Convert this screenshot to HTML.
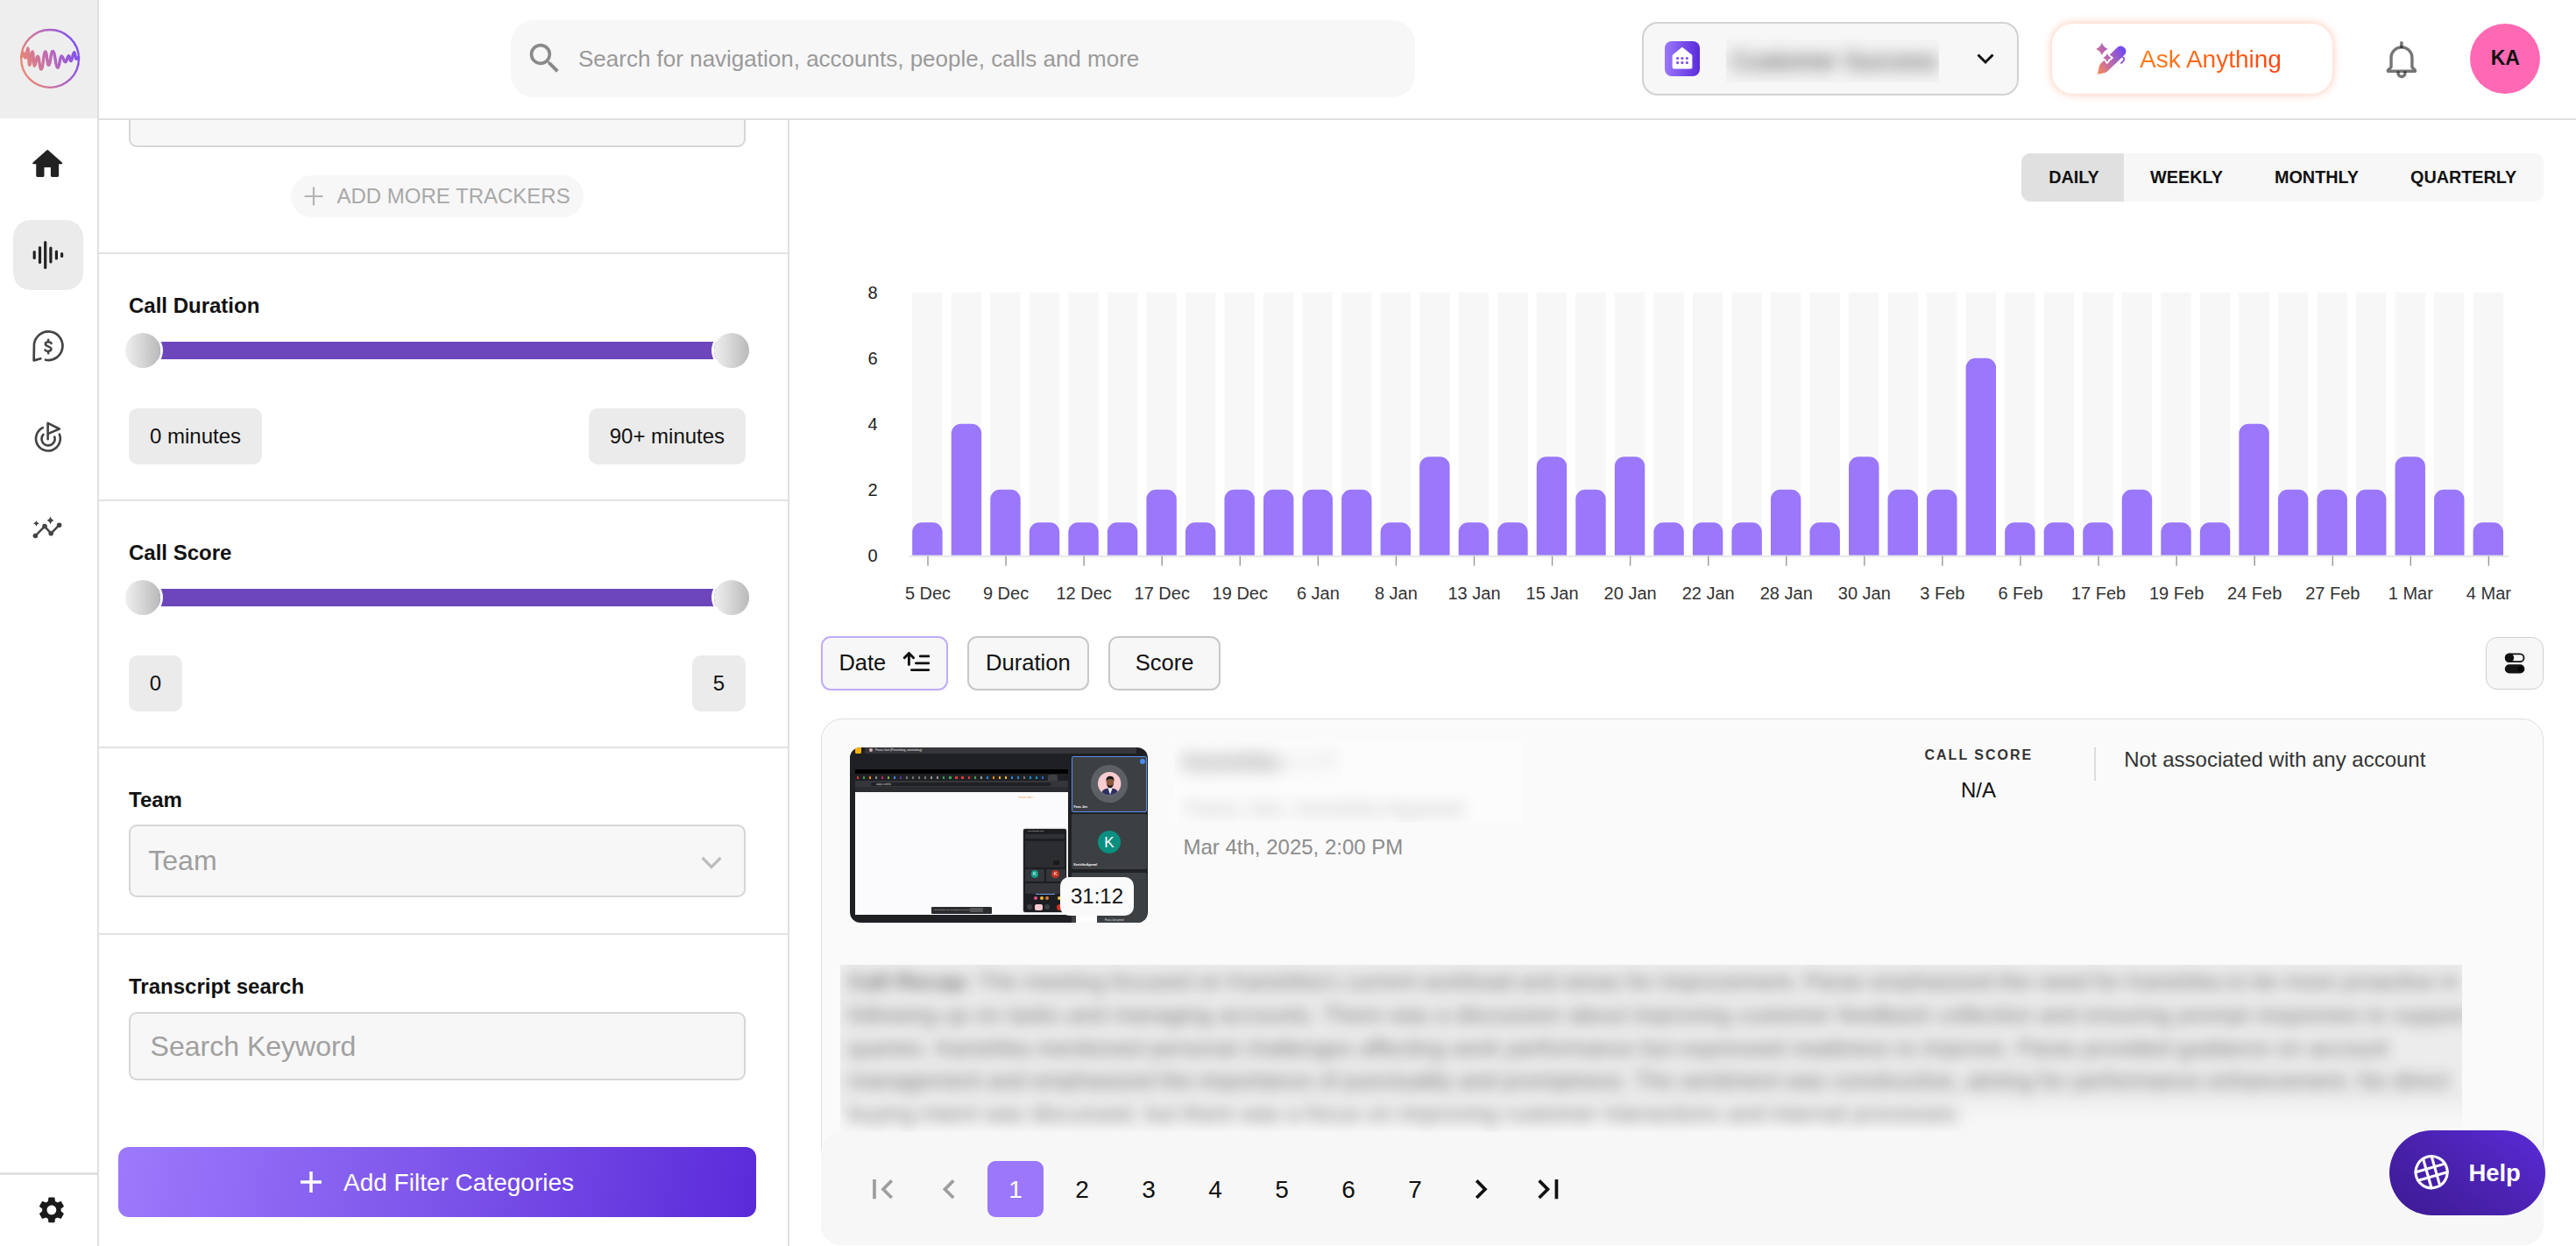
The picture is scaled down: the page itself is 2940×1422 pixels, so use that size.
<!DOCTYPE html>
<html lang="en"><head><meta charset="utf-8"><title>Calls</title>
<style>
*{box-sizing:border-box;margin:0;padding:0}
html,body{width:2940px;height:1422px;overflow:hidden;background:#fff}
body{font-family:"Liberation Sans",Arial,Helvetica,sans-serif;color:#111;position:relative}
.a,.t{position:absolute}
.t{white-space:nowrap}
svg{position:absolute;overflow:visible}
</style></head><body>

<div class="a" style="left:0;top:0;width:111px;height:135px;background:#eeeeee"></div>
<div class="a" style="left:111px;top:0;width:2px;height:1422px;background:#e0e0e0"></div>
<div class="a" style="left:113px;top:135px;width:2827px;height:2px;background:#e0e0e0"></div>
<div class="a" style="left:0;top:1338px;width:111px;height:2.5px;background:#e0e0e0"></div>
<svg style="left:16px;top:26px" width="82" height="82" viewBox="0 0 1246 1246">
<defs><linearGradient id="lg" gradientUnits="userSpaceOnUse" x1="110" y1="800" x2="1140" y2="450"><stop offset="0" stop-color="#f08a6c"/><stop offset="0.5" stop-color="#bd6bb5"/><stop offset="1" stop-color="#7b4df3"/></linearGradient></defs>
<circle cx="624" cy="622" r="500" fill="none" stroke="url(#lg)" stroke-width="36"/>
<path d="M130 590 C145 590 145 520 160 520 C180 520 180 610 200 610 C220 610 220 440 240 440 C254 440 254 735 268 735 C294 735 294 500 320 500 C338 500 338 748 355 748 C382 748 382 580 410 580 C440 580 440 805 470 805 C508 805 508 500 545 500 C572 500 572 735 600 735 C635 735 635 495 670 495 C716 495 716 778 762 778 C792 778 792 575 822 575 C856 575 856 680 890 680 C920 680 920 572 950 572 C968 572 968 665 985 665 C1015 665 1015 512 1045 512 C1062 512 1062 628 1078 628 C1099 628 1099 600 1120 600" fill="none" stroke="url(#lg)" stroke-width="52" stroke-linecap="round" stroke-linejoin="round"/>
</svg>
<svg style="left:32px;top:164.6px" width="44.4" height="44.4" viewBox="0 0 24 24"><path fill="#222" d="M10 19v-5h4v5c0 .55.45 1 1 1h3c.55 0 1-.45 1-1v-7h1.7c.46 0 .68-.57.33-.87L12.67 3.6c-.38-.34-.96-.34-1.34 0l-8.36 7.53c-.34.3-.13.87.33.87H5v7c0 .55.45 1 1 1h3c.55 0 1-.45 1-1z"/></svg>
<div class="a" style="left:15px;top:251px;width:80px;height:80px;border-radius:20px;background:#ebebeb"></div>
<svg style="left:0;top:0" width="111" height="400" viewBox="0 0 111 400"><rect x="37.6" y="286.0" width="3.2" height="10" rx="1.6" fill="#222"/><rect x="43.9" y="281.0" width="3.2" height="20" rx="1.6" fill="#222"/><rect x="50.1" y="275.0" width="3.2" height="32" rx="1.6" fill="#222"/><rect x="56.3" y="281.5" width="3.2" height="19" rx="1.6" fill="#222"/><rect x="62.8" y="285.5" width="3.2" height="11" rx="1.6" fill="#222"/><rect x="69.0" y="288.0" width="3.2" height="6" rx="1.6" fill="#222"/></svg>
<svg style="left:25px;top:365px" width="60" height="60" viewBox="0 0 60 60" fill="none" stroke="#444" stroke-width="2.7" stroke-linecap="round" stroke-linejoin="round">
<path d="M27 45.7 A16.3 16.3 0 1 0 13.9 31 L13.6 46.4 L21.4 44.3"/>
<path d="M33.6 27 C33 24.9 27.2 24.4 26.8 27.5 C26.5 30.7 33.7 29.9 33.5 33.4 C33.3 36.5 27.2 36.4 26.4 34.4 M30.1 22.8 v2.2 M30.1 36.1 v2.2" stroke-width="2.5"/>
</svg>
<svg style="left:25px;top:470px" width="60" height="60" viewBox="0 0 60 60" fill="none" stroke="#444" stroke-width="2.65" stroke-linecap="round" stroke-linejoin="round">
<path d="M23.81 18.11 A13.9 13.9 0 1 0 42.88 25.62"/>
<path d="M24.44 25.98 A7.5 7.5 0 1 0 37.23 28.58"/>
<path d="M29.6 31.2 V12.9 L42.8 19.5 L29.6 25.1"/>
</svg>
<svg style="left:25px;top:572px" width="60" height="60" viewBox="0 0 60 60">
<path d="M15.4 39.5 L26 28.6 L33.2 36.8 L42.6 27.2" fill="none" stroke="#444" stroke-width="2.5" stroke-linecap="round" stroke-linejoin="round"/>
<g fill="#444"><circle cx="15.4" cy="39.5" r="2.8"/><circle cx="26" cy="28.6" r="2.8"/><circle cx="33.2" cy="36.8" r="2.8"/><circle cx="42.6" cy="27.2" r="2.8"/>
<path d="M32.5 17.5 Q33.34 20.93 36.3 21.9 Q33.34 22.87 32.5 26.299999999999997 Q31.66 22.87 28.7 21.9 Q31.66 20.93 32.5 17.5Z"/><path d="M16.4 22.099999999999998 Q16.91 24.90 19.799999999999997 25.4 Q16.91 25.89 16.4 28.7 Q15.89 25.89 12.999999999999998 25.4 Q15.89 24.90 16.4 22.099999999999998Z"/></g>
</svg>
<svg style="left:41.1px;top:1363.1px" width="35.8" height="35.8" viewBox="0 0 24 24"><path fill="#1a1a1a" d="M19.14 12.94c.04-.3.06-.61.06-.94 0-.32-.02-.64-.07-.94l2.03-1.58c.18-.14.23-.41.12-.61l-1.92-3.32c-.12-.22-.37-.29-.59-.22l-2.39.96c-.5-.38-1.03-.7-1.62-.94l-.36-2.54c-.04-.24-.24-.41-.48-.41h-3.84c-.24 0-.43.17-.47.41l-.36 2.54c-.59.24-1.13.57-1.62.94l-2.39-.96c-.22-.08-.47 0-.59.22L2.74 8.87c-.12.21-.08.47.12.61l2.03 1.58c-.05.3-.09.63-.09.94s.02.64.07.94l-2.03 1.58c-.18.14-.23.41-.12.61l1.92 3.32c.12.22.37.29.59.22l2.39-.96c.5.38 1.03.7 1.62.94l.36 2.54c.05.24.24.41.48.41h3.84c.24 0 .44-.17.47-.41l.36-2.54c.59-.24 1.13-.56 1.62-.94l2.39.96c.22.08.47 0 .59-.22l1.92-3.32c.12-.22.07-.47-.12-.61l-2.01-1.58zM12 15.6c-1.98 0-3.6-1.62-3.6-3.6s1.62-3.6 3.6-3.6 3.6 1.62 3.6 3.6-1.62 3.6-3.6 3.6z"/></svg>
<div class="a" style="left:583px;top:23px;width:1032px;height:88px;border-radius:26px;background:#f7f7f7"></div>
<svg style="left:598.6px;top:43.6px" width="45.3" height="45.3" viewBox="0 0 24 24"><path fill="#8a8a8a" d="M15.5 14h-.79l-.28-.27A6.471 6.471 0 0 0 16 9.5 6.5 6.5 0 1 0 9.5 16c1.61 0 3.09-.59 4.23-1.57l.27.28v.79l5 4.99L20.49 19l-4.99-5zm-6 0C7.01 14 5 11.99 5 9.5S7.01 5 9.5 5 14 7.01 14 9.5 11.99 14 9.5 14z"/></svg>
<div class="t " style="left:660px;top:52.29px;font-size:26px;line-height:31px;color:#9a9a9a;font-weight:400;">Search for navigation, accounts, people, calls and more</div>
<div class="a" style="left:1874px;top:25px;width:430px;height:84px;border-radius:18px;background:#f7f7f7;border:2px solid #d2d2d2"></div>
<svg style="left:1890px;top:37px" width="60" height="60" viewBox="0 0 60 60">
<defs><linearGradient id="pg" x1="0" y1="0" x2="1" y2="0"><stop offset="0" stop-color="#9b78fb"/><stop offset="1" stop-color="#5a2adb"/></linearGradient></defs>
<rect x="10" y="10" width="40" height="40" rx="8" fill="url(#pg)"/>
<path d="M29.9 17.2 L40.9 26 V40 Q40.9 41.1 39.8 41.1 H20.2 Q19.1 41.1 19.1 40 V26 Z" fill="#fff" stroke="#fff" stroke-width="1" stroke-linejoin="round"/>
<g fill="#7a4fec"><circle cx="24.6" cy="29.5" r="1.6"/><circle cx="29.9" cy="29.5" r="1.6"/><circle cx="35.4" cy="29.5" r="1.6"/><circle cx="24.6" cy="34.6" r="1.6"/><circle cx="29.9" cy="34.6" r="1.6"/><circle cx="35.4" cy="34.6" r="1.6"/></g>
</svg>
<div class="a" style="left:1970px;top:45px;width:243px;height:49px;overflow:hidden;background:#f4f4f4"><div class="t" style="left:6px;top:7px;font-size:28px;line-height:36px;font-weight:400;color:#333;filter:blur(9px)">Customer Success</div></div>
<svg style="left:2254px;top:57px" width="24" height="20" viewBox="0 0 24 20"><path d="M3.5 5.5 L12 14 L20.5 5.5" fill="none" stroke="#111" stroke-width="3" stroke-linecap="butt" stroke-linejoin="miter"/></svg>
<div class="a" style="left:2342px;top:27px;width:320px;height:80px;border-radius:24px;background:#fff;box-shadow:0 0 10px 1px rgba(255,120,70,.38)"></div>
<svg style="left:2380px;top:40px" width="60" height="60" viewBox="0 0 60 60">
<defs><linearGradient id="ag" gradientUnits="userSpaceOnUse" x1="12" y1="40" x2="46" y2="18"><stop offset="0" stop-color="#f58a55"/><stop offset="0.35" stop-color="#c9709c"/><stop offset="1" stop-color="#6f48f5"/></linearGradient></defs>
<path d="M36.8 13.8 Q41.5 10.5 45.2 15 Q48 19 44.6 22.8 L25.2 41.6 Q24 42.6 22.4 43 L14.8 44.8 Q13.8 45 14.2 43.8 L15.9 35.6 Q16.2 34 17.4 32.8 Z" fill="url(#ag)"/>
<path d="M42.4 25.2 Q45.6 26.6 43.6 29.4 L41 32" fill="none" stroke="url(#ag)" stroke-width="1.8" stroke-linecap="round"/>
<path d="M24.9 20.8 Q26.36 24.54 30.099999999999998 26 Q26.36 27.46 24.9 31.2 Q23.44 27.46 19.7 26 Q23.44 24.54 24.9 20.8Z" fill="#fff" stroke="#fff" stroke-width="3.2" stroke-linejoin="round"/>
<path d="M24.9 21.3 Q26.22 24.68 29.599999999999998 26 Q26.22 27.32 24.9 30.7 Q23.58 27.32 20.2 26 Q23.58 24.68 24.9 21.3Z" fill="url(#ag)"/>
<path d="M18.9 8.9 Q20.80 13.94 25.7 15.9 Q20.80 17.86 18.9 22.9 Q17.00 17.86 12.099999999999998 15.9 Q17.00 13.94 18.9 8.9Z" fill="url(#ag)"/>
</svg>
<div class="t " style="left:2442px;top:51.10px;font-size:28px;line-height:34px;color:#ff5a1f;font-weight:400;background:linear-gradient(90deg,#ff7d1a,#ff4510);-webkit-background-clip:text;background-clip:text;-webkit-text-fill-color:transparent;color:transparent;">Ask Anything</div>
<svg style="left:2710px;top:37px" width="60" height="60" viewBox="0 0 60 60" fill="none" stroke="rgba(0,0,0,0.54)" stroke-width="3.4" stroke-linejoin="round">
<path d="M19 39.6 V28.85 A11.95 11.95 0 0 1 42.9 28.85 V39.6 L46.4 43.2 V44.3 H15.4 V43.2 Z"/>
<path d="M30.9 11.9 V16.6" stroke-width="3.6" stroke-linecap="round"/>
<path d="M27 45.6 V46.6 A3.95 3.95 0 0 0 34.9 46.6 V45.6" stroke-linecap="round"/>
</svg>
<div class="a" style="left:2819px;top:27px;width:80px;height:80px;border-radius:50%;background:#ff69b4"></div>
<div class="t " style="left:2819.3px;top:51.83px;font-size:23px;line-height:28px;color:#111;font-weight:700;width:80px;text-align:center;">KA</div>
<div class="a" style="left:899px;top:137px;width:2px;height:1285px;background:#e0e0e0"></div>
<div class="a" style="left:113px;top:137px;width:786px;height:60px;overflow:hidden"><div class="a" style="left:34px;top:-50px;width:704px;height:80.5px;border:2px solid #d6d6d6;border-radius:9px;background:#f7f7f7"></div></div>
<div class="a" style="left:332px;top:200px;width:334px;height:48px;border-radius:24px;background:#f7f7f7"></div>
<svg style="left:345.8px;top:212px" width="24" height="24" viewBox="0 0 24 24"><path d="M12 1.6 V22.4 M1.6 12 H22.4" stroke="#b4b4b4" stroke-width="2.2" fill="none"/></svg>
<div class="t " style="left:384.4px;top:208.98px;font-size:24px;line-height:29px;color:#a8a8a8;font-weight:400;">ADD MORE TRACKERS</div>
<div class="a" style="left:113px;top:288px;width:786px;height:2px;background:#e2e2e2"></div>
<div class="a" style="left:113px;top:570px;width:786px;height:2px;background:#e2e2e2"></div>
<div class="a" style="left:113px;top:852px;width:786px;height:2px;background:#e2e2e2"></div>
<div class="a" style="left:113px;top:1065px;width:786px;height:2px;background:#e2e2e2"></div>
<div class="t " style="left:147px;top:334.18px;font-size:24px;line-height:29px;color:#111;font-weight:700;">Call Duration</div>
<div class="a" style="left:163px;top:390px;width:672px;height:20px;background:#6c46ba"></div>
<div class="a" style="left:143px;top:380px;width:40px;height:40px;border-radius:50%;background:linear-gradient(90deg,#efefef 0%,#d8d8d8 45%,#b9b9b9 100%);box-shadow:0 0 0 3px #fff"></div>
<div class="a" style="left:815px;top:380px;width:40px;height:40px;border-radius:50%;background:linear-gradient(90deg,#efefef 0%,#d8d8d8 45%,#b9b9b9 100%);box-shadow:0 0 0 3px #fff"></div>
<div class="a" style="left:147px;top:465.6px;width:152px;height:64px;border-radius:10px;background:#ebebeb"></div>
<div class="t " style="left:171px;top:483.38px;font-size:24px;line-height:29px;color:#111;font-weight:400;">0 minutes</div>
<div class="a" style="left:672px;top:465.6px;width:179px;height:64px;border-radius:10px;background:#ebebeb"></div>
<div class="t " style="left:695.7px;top:483.38px;font-size:24px;line-height:29px;color:#111;font-weight:400;">90+ minutes</div>
<div class="t " style="left:147px;top:615.98px;font-size:24px;line-height:29px;color:#111;font-weight:700;">Call Score</div>
<div class="a" style="left:163px;top:672px;width:672px;height:20px;background:#6c46ba"></div>
<div class="a" style="left:143px;top:662px;width:40px;height:40px;border-radius:50%;background:linear-gradient(90deg,#efefef 0%,#d8d8d8 45%,#b9b9b9 100%);box-shadow:0 0 0 3px #fff"></div>
<div class="a" style="left:815px;top:662px;width:40px;height:40px;border-radius:50%;background:linear-gradient(90deg,#efefef 0%,#d8d8d8 45%,#b9b9b9 100%);box-shadow:0 0 0 3px #fff"></div>
<div class="a" style="left:147px;top:747.6px;width:61px;height:64px;border-radius:10px;background:#ebebeb"></div>
<div class="t " style="left:147px;top:765.18px;font-size:24px;line-height:29px;color:#111;font-weight:400;width:61px;text-align:center;">0</div>
<div class="a" style="left:790px;top:747.6px;width:61px;height:64px;border-radius:10px;background:#ebebeb"></div>
<div class="t " style="left:790px;top:765.18px;font-size:24px;line-height:29px;color:#111;font-weight:400;width:61px;text-align:center;">5</div>
<div class="t " style="left:147px;top:898.38px;font-size:24px;line-height:29px;color:#111;font-weight:700;">Team</div>
<div class="a" style="left:147px;top:940.6px;width:704px;height:83.4px;border:2px solid #d6d6d6;border-radius:9px;background:#f7f7f7"></div>
<div class="t " style="left:169.3px;top:963.11px;font-size:32px;line-height:38px;color:#9e9e9e;font-weight:400;">Team</div>
<svg style="left:798px;top:972px" width="28" height="24" viewBox="0 0 28 24"><path d="M3.6 7 L14 17.4 L24.4 7" fill="none" stroke="#bdbdbd" stroke-width="3.2"/></svg>
<div class="t " style="left:147px;top:1110.88px;font-size:24px;line-height:29px;color:#111;font-weight:700;">Transcript search</div>
<div class="a" style="left:147px;top:1155px;width:704px;height:77.6px;border:2px solid #d6d6d6;border-radius:9px;background:#f7f7f7"></div>
<div class="t " style="left:171.6px;top:1174.91px;font-size:32px;line-height:38px;color:#a0a0a0;font-weight:400;">Search Keyword</div>
<div class="a" style="left:135px;top:1309px;width:728px;height:80px;border-radius:12px;background:linear-gradient(100deg,#9c79fc 0%,#7d55ea 50%,#5a2ad9 100%)"></div>
<svg style="left:341px;top:1335px" width="28" height="28" viewBox="0 0 28 28"><path d="M14 2 V26 M2 14 H26" stroke="#fff" stroke-width="3.5" fill="none"/></svg>
<div class="t " style="left:392px;top:1333.00px;font-size:28px;line-height:34px;color:#fff;font-weight:400;">Add Filter Categories</div>
<div class="a" style="left:2307px;top:175px;width:596px;height:55px;border-radius:10px;background:#f7f7f7;overflow:hidden"><div class="a" style="left:0;top:0;width:117px;height:55px;background:#e0e0e0"></div></div>
<div class="t " style="left:2266.9px;top:189.54px;font-size:19.8px;line-height:24px;color:#111;font-weight:700;width:200px;text-align:center;">DAILY</div>
<div class="t " style="left:2395.5px;top:189.54px;font-size:19.8px;line-height:24px;color:#111;font-weight:700;width:200px;text-align:center;">WEEKLY</div>
<div class="t " style="left:2544px;top:189.54px;font-size:19.8px;line-height:24px;color:#111;font-weight:700;width:200px;text-align:center;">MONTHLY</div>
<div class="t " style="left:2711.7px;top:189.54px;font-size:19.8px;line-height:24px;color:#111;font-weight:700;width:200px;text-align:center;">QUARTERLY</div>
<svg style="left:0;top:0" width="2940" height="720" viewBox="0 0 2940 720" font-family="Liberation Sans, Arial, sans-serif" font-size="20"><rect x="1041.20" y="333.7" width="34.4" height="300.0" fill="#f7f7f7"/><rect x="1085.74" y="333.7" width="34.4" height="300.0" fill="#f7f7f7"/><rect x="1130.27" y="333.7" width="34.4" height="300.0" fill="#f7f7f7"/><rect x="1174.81" y="333.7" width="34.4" height="300.0" fill="#f7f7f7"/><rect x="1219.34" y="333.7" width="34.4" height="300.0" fill="#f7f7f7"/><rect x="1263.88" y="333.7" width="34.4" height="300.0" fill="#f7f7f7"/><rect x="1308.41" y="333.7" width="34.4" height="300.0" fill="#f7f7f7"/><rect x="1352.95" y="333.7" width="34.4" height="300.0" fill="#f7f7f7"/><rect x="1397.48" y="333.7" width="34.4" height="300.0" fill="#f7f7f7"/><rect x="1442.01" y="333.7" width="34.4" height="300.0" fill="#f7f7f7"/><rect x="1486.55" y="333.7" width="34.4" height="300.0" fill="#f7f7f7"/><rect x="1531.09" y="333.7" width="34.4" height="300.0" fill="#f7f7f7"/><rect x="1575.62" y="333.7" width="34.4" height="300.0" fill="#f7f7f7"/><rect x="1620.15" y="333.7" width="34.4" height="300.0" fill="#f7f7f7"/><rect x="1664.69" y="333.7" width="34.4" height="300.0" fill="#f7f7f7"/><rect x="1709.22" y="333.7" width="34.4" height="300.0" fill="#f7f7f7"/><rect x="1753.76" y="333.7" width="34.4" height="300.0" fill="#f7f7f7"/><rect x="1798.30" y="333.7" width="34.4" height="300.0" fill="#f7f7f7"/><rect x="1842.83" y="333.7" width="34.4" height="300.0" fill="#f7f7f7"/><rect x="1887.37" y="333.7" width="34.4" height="300.0" fill="#f7f7f7"/><rect x="1931.90" y="333.7" width="34.4" height="300.0" fill="#f7f7f7"/><rect x="1976.43" y="333.7" width="34.4" height="300.0" fill="#f7f7f7"/><rect x="2020.97" y="333.7" width="34.4" height="300.0" fill="#f7f7f7"/><rect x="2065.51" y="333.7" width="34.4" height="300.0" fill="#f7f7f7"/><rect x="2110.04" y="333.7" width="34.4" height="300.0" fill="#f7f7f7"/><rect x="2154.57" y="333.7" width="34.4" height="300.0" fill="#f7f7f7"/><rect x="2199.11" y="333.7" width="34.4" height="300.0" fill="#f7f7f7"/><rect x="2243.64" y="333.7" width="34.4" height="300.0" fill="#f7f7f7"/><rect x="2288.18" y="333.7" width="34.4" height="300.0" fill="#f7f7f7"/><rect x="2332.72" y="333.7" width="34.4" height="300.0" fill="#f7f7f7"/><rect x="2377.25" y="333.7" width="34.4" height="300.0" fill="#f7f7f7"/><rect x="2421.78" y="333.7" width="34.4" height="300.0" fill="#f7f7f7"/><rect x="2466.32" y="333.7" width="34.4" height="300.0" fill="#f7f7f7"/><rect x="2510.86" y="333.7" width="34.4" height="300.0" fill="#f7f7f7"/><rect x="2555.39" y="333.7" width="34.4" height="300.0" fill="#f7f7f7"/><rect x="2599.93" y="333.7" width="34.4" height="300.0" fill="#f7f7f7"/><rect x="2644.46" y="333.7" width="34.4" height="300.0" fill="#f7f7f7"/><rect x="2688.99" y="333.7" width="34.4" height="300.0" fill="#f7f7f7"/><rect x="2733.53" y="333.7" width="34.4" height="300.0" fill="#f7f7f7"/><rect x="2778.06" y="333.7" width="34.4" height="300.0" fill="#f7f7f7"/><rect x="2822.60" y="333.7" width="34.4" height="300.0" fill="#f7f7f7"/><path fill="#9a77fb" d="M1041.20 633.7 V607.20 A11 11 0 0 1 1052.20 596.20 H1064.60 A11 11 0 0 1 1075.60 607.20 V633.7 Z"/><path fill="#9a77fb" d="M1085.74 633.7 V494.70 A11 11 0 0 1 1096.74 483.70 H1109.14 A11 11 0 0 1 1120.14 494.70 V633.7 Z"/><path fill="#9a77fb" d="M1130.27 633.7 V569.70 A11 11 0 0 1 1141.27 558.70 H1153.67 A11 11 0 0 1 1164.67 569.70 V633.7 Z"/><path fill="#9a77fb" d="M1174.81 633.7 V607.20 A11 11 0 0 1 1185.81 596.20 H1198.21 A11 11 0 0 1 1209.21 607.20 V633.7 Z"/><path fill="#9a77fb" d="M1219.34 633.7 V607.20 A11 11 0 0 1 1230.34 596.20 H1242.74 A11 11 0 0 1 1253.74 607.20 V633.7 Z"/><path fill="#9a77fb" d="M1263.88 633.7 V607.20 A11 11 0 0 1 1274.88 596.20 H1287.28 A11 11 0 0 1 1298.28 607.20 V633.7 Z"/><path fill="#9a77fb" d="M1308.41 633.7 V569.70 A11 11 0 0 1 1319.41 558.70 H1331.81 A11 11 0 0 1 1342.81 569.70 V633.7 Z"/><path fill="#9a77fb" d="M1352.95 633.7 V607.20 A11 11 0 0 1 1363.95 596.20 H1376.35 A11 11 0 0 1 1387.35 607.20 V633.7 Z"/><path fill="#9a77fb" d="M1397.48 633.7 V569.70 A11 11 0 0 1 1408.48 558.70 H1420.88 A11 11 0 0 1 1431.88 569.70 V633.7 Z"/><path fill="#9a77fb" d="M1442.01 633.7 V569.70 A11 11 0 0 1 1453.01 558.70 H1465.41 A11 11 0 0 1 1476.41 569.70 V633.7 Z"/><path fill="#9a77fb" d="M1486.55 633.7 V569.70 A11 11 0 0 1 1497.55 558.70 H1509.95 A11 11 0 0 1 1520.95 569.70 V633.7 Z"/><path fill="#9a77fb" d="M1531.09 633.7 V569.70 A11 11 0 0 1 1542.09 558.70 H1554.49 A11 11 0 0 1 1565.49 569.70 V633.7 Z"/><path fill="#9a77fb" d="M1575.62 633.7 V607.20 A11 11 0 0 1 1586.62 596.20 H1599.02 A11 11 0 0 1 1610.02 607.20 V633.7 Z"/><path fill="#9a77fb" d="M1620.15 633.7 V532.20 A11 11 0 0 1 1631.15 521.20 H1643.56 A11 11 0 0 1 1654.56 532.20 V633.7 Z"/><path fill="#9a77fb" d="M1664.69 633.7 V607.20 A11 11 0 0 1 1675.69 596.20 H1688.09 A11 11 0 0 1 1699.09 607.20 V633.7 Z"/><path fill="#9a77fb" d="M1709.22 633.7 V607.20 A11 11 0 0 1 1720.22 596.20 H1732.62 A11 11 0 0 1 1743.62 607.20 V633.7 Z"/><path fill="#9a77fb" d="M1753.76 633.7 V532.20 A11 11 0 0 1 1764.76 521.20 H1777.16 A11 11 0 0 1 1788.16 532.20 V633.7 Z"/><path fill="#9a77fb" d="M1798.30 633.7 V569.70 A11 11 0 0 1 1809.30 558.70 H1821.70 A11 11 0 0 1 1832.70 569.70 V633.7 Z"/><path fill="#9a77fb" d="M1842.83 633.7 V532.20 A11 11 0 0 1 1853.83 521.20 H1866.23 A11 11 0 0 1 1877.23 532.20 V633.7 Z"/><path fill="#9a77fb" d="M1887.37 633.7 V607.20 A11 11 0 0 1 1898.37 596.20 H1910.77 A11 11 0 0 1 1921.77 607.20 V633.7 Z"/><path fill="#9a77fb" d="M1931.90 633.7 V607.20 A11 11 0 0 1 1942.90 596.20 H1955.30 A11 11 0 0 1 1966.30 607.20 V633.7 Z"/><path fill="#9a77fb" d="M1976.43 633.7 V607.20 A11 11 0 0 1 1987.43 596.20 H1999.84 A11 11 0 0 1 2010.84 607.20 V633.7 Z"/><path fill="#9a77fb" d="M2020.97 633.7 V569.70 A11 11 0 0 1 2031.97 558.70 H2044.37 A11 11 0 0 1 2055.37 569.70 V633.7 Z"/><path fill="#9a77fb" d="M2065.51 633.7 V607.20 A11 11 0 0 1 2076.51 596.20 H2088.91 A11 11 0 0 1 2099.91 607.20 V633.7 Z"/><path fill="#9a77fb" d="M2110.04 633.7 V532.20 A11 11 0 0 1 2121.04 521.20 H2133.44 A11 11 0 0 1 2144.44 532.20 V633.7 Z"/><path fill="#9a77fb" d="M2154.57 633.7 V569.70 A11 11 0 0 1 2165.57 558.70 H2177.97 A11 11 0 0 1 2188.97 569.70 V633.7 Z"/><path fill="#9a77fb" d="M2199.11 633.7 V569.70 A11 11 0 0 1 2210.11 558.70 H2222.51 A11 11 0 0 1 2233.51 569.70 V633.7 Z"/><path fill="#9a77fb" d="M2243.64 633.7 V419.70 A11 11 0 0 1 2254.64 408.70 H2267.05 A11 11 0 0 1 2278.05 419.70 V633.7 Z"/><path fill="#9a77fb" d="M2288.18 633.7 V607.20 A11 11 0 0 1 2299.18 596.20 H2311.58 A11 11 0 0 1 2322.58 607.20 V633.7 Z"/><path fill="#9a77fb" d="M2332.72 633.7 V607.20 A11 11 0 0 1 2343.72 596.20 H2356.12 A11 11 0 0 1 2367.12 607.20 V633.7 Z"/><path fill="#9a77fb" d="M2377.25 633.7 V607.20 A11 11 0 0 1 2388.25 596.20 H2400.65 A11 11 0 0 1 2411.65 607.20 V633.7 Z"/><path fill="#9a77fb" d="M2421.78 633.7 V569.70 A11 11 0 0 1 2432.78 558.70 H2445.18 A11 11 0 0 1 2456.18 569.70 V633.7 Z"/><path fill="#9a77fb" d="M2466.32 633.7 V607.20 A11 11 0 0 1 2477.32 596.20 H2489.72 A11 11 0 0 1 2500.72 607.20 V633.7 Z"/><path fill="#9a77fb" d="M2510.86 633.7 V607.20 A11 11 0 0 1 2521.86 596.20 H2534.26 A11 11 0 0 1 2545.26 607.20 V633.7 Z"/><path fill="#9a77fb" d="M2555.39 633.7 V494.70 A11 11 0 0 1 2566.39 483.70 H2578.79 A11 11 0 0 1 2589.79 494.70 V633.7 Z"/><path fill="#9a77fb" d="M2599.93 633.7 V569.70 A11 11 0 0 1 2610.93 558.70 H2623.33 A11 11 0 0 1 2634.33 569.70 V633.7 Z"/><path fill="#9a77fb" d="M2644.46 633.7 V569.70 A11 11 0 0 1 2655.46 558.70 H2667.86 A11 11 0 0 1 2678.86 569.70 V633.7 Z"/><path fill="#9a77fb" d="M2688.99 633.7 V569.70 A11 11 0 0 1 2699.99 558.70 H2712.39 A11 11 0 0 1 2723.39 569.70 V633.7 Z"/><path fill="#9a77fb" d="M2733.53 633.7 V532.20 A11 11 0 0 1 2744.53 521.20 H2756.93 A11 11 0 0 1 2767.93 532.20 V633.7 Z"/><path fill="#9a77fb" d="M2778.06 633.7 V569.70 A11 11 0 0 1 2789.06 558.70 H2801.46 A11 11 0 0 1 2812.46 569.70 V633.7 Z"/><path fill="#9a77fb" d="M2822.60 633.7 V607.20 A11 11 0 0 1 2833.60 596.20 H2846.00 A11 11 0 0 1 2857.00 607.20 V633.7 Z"/><rect x="1037" y="633.8" width="1826" height="2" fill="#e6e6e6"/><rect x="1058.30" y="634.7" width="1.4" height="11" fill="#999"/><text x="1059.00" y="684.2" text-anchor="middle" fill="#333">5 Dec</text><rect x="1147.37" y="634.7" width="1.4" height="11" fill="#999"/><text x="1148.07" y="684.2" text-anchor="middle" fill="#333">9 Dec</text><rect x="1236.44" y="634.7" width="1.4" height="11" fill="#999"/><text x="1237.14" y="684.2" text-anchor="middle" fill="#333">12 Dec</text><rect x="1325.51" y="634.7" width="1.4" height="11" fill="#999"/><text x="1326.21" y="684.2" text-anchor="middle" fill="#333">17 Dec</text><rect x="1414.58" y="634.7" width="1.4" height="11" fill="#999"/><text x="1415.28" y="684.2" text-anchor="middle" fill="#333">19 Dec</text><rect x="1503.65" y="634.7" width="1.4" height="11" fill="#999"/><text x="1504.35" y="684.2" text-anchor="middle" fill="#333">6 Jan</text><rect x="1592.72" y="634.7" width="1.4" height="11" fill="#999"/><text x="1593.42" y="684.2" text-anchor="middle" fill="#333">8 Jan</text><rect x="1681.79" y="634.7" width="1.4" height="11" fill="#999"/><text x="1682.49" y="684.2" text-anchor="middle" fill="#333">13 Jan</text><rect x="1770.86" y="634.7" width="1.4" height="11" fill="#999"/><text x="1771.56" y="684.2" text-anchor="middle" fill="#333">15 Jan</text><rect x="1859.93" y="634.7" width="1.4" height="11" fill="#999"/><text x="1860.63" y="684.2" text-anchor="middle" fill="#333">20 Jan</text><rect x="1949.00" y="634.7" width="1.4" height="11" fill="#999"/><text x="1949.70" y="684.2" text-anchor="middle" fill="#333">22 Jan</text><rect x="2038.07" y="634.7" width="1.4" height="11" fill="#999"/><text x="2038.77" y="684.2" text-anchor="middle" fill="#333">28 Jan</text><rect x="2127.14" y="634.7" width="1.4" height="11" fill="#999"/><text x="2127.84" y="684.2" text-anchor="middle" fill="#333">30 Jan</text><rect x="2216.21" y="634.7" width="1.4" height="11" fill="#999"/><text x="2216.91" y="684.2" text-anchor="middle" fill="#333">3 Feb</text><rect x="2305.28" y="634.7" width="1.4" height="11" fill="#999"/><text x="2305.98" y="684.2" text-anchor="middle" fill="#333">6 Feb</text><rect x="2394.35" y="634.7" width="1.4" height="11" fill="#999"/><text x="2395.05" y="684.2" text-anchor="middle" fill="#333">17 Feb</text><rect x="2483.42" y="634.7" width="1.4" height="11" fill="#999"/><text x="2484.12" y="684.2" text-anchor="middle" fill="#333">19 Feb</text><rect x="2572.49" y="634.7" width="1.4" height="11" fill="#999"/><text x="2573.19" y="684.2" text-anchor="middle" fill="#333">24 Feb</text><rect x="2661.56" y="634.7" width="1.4" height="11" fill="#999"/><text x="2662.26" y="684.2" text-anchor="middle" fill="#333">27 Feb</text><rect x="2750.63" y="634.7" width="1.4" height="11" fill="#999"/><text x="2751.33" y="684.2" text-anchor="middle" fill="#333">1 Mar</text><rect x="2839.70" y="634.7" width="1.4" height="11" fill="#999"/><text x="2840.40" y="684.2" text-anchor="middle" fill="#333">4 Mar</text><text x="1001.5" y="641.0" text-anchor="end" fill="#222">0</text><text x="1001.5" y="566.0" text-anchor="end" fill="#222">2</text><text x="1001.5" y="491.0" text-anchor="end" fill="#222">4</text><text x="1001.5" y="416.0" text-anchor="end" fill="#222">6</text><text x="1001.5" y="341.0" text-anchor="end" fill="#222">8</text></svg>
<div class="a" style="left:937px;top:726px;width:145px;height:62px;border:2px solid #bfacf8;border-radius:11px;background:#f7f7f7"></div>
<div class="t " style="left:957.5px;top:741.20px;font-size:25.4px;line-height:30px;color:#111;font-weight:400;">Date</div>
<svg style="left:1016px;top:727px" width="60" height="60" viewBox="0 0 60 60" fill="none" stroke="#111" stroke-width="2.9" stroke-linecap="round" stroke-linejoin="round">
<path d="M21.4 31.6 V18.6 M16.2 23.8 L21.4 18.4 L26.6 23.8"/><path d="M34.3 21.9 H43.8 M29.5 29.9 H43.8 M24.4 37.6 H43.8"/></svg>
<div class="a" style="left:1104px;top:726px;width:139px;height:62px;border:2px solid #c8c8c8;border-radius:11px;background:#f7f7f7"></div>
<div class="t " style="left:1125px;top:740.63px;font-size:25.6px;line-height:31px;color:#111;font-weight:400;">Duration</div>
<div class="a" style="left:1265px;top:726px;width:128px;height:62px;border:2px solid #c8c8c8;border-radius:11px;background:#f7f7f7"></div>
<div class="t " style="left:1295.8px;top:740.66px;font-size:25.5px;line-height:31px;color:#111;font-weight:400;">Score</div>
<div class="a" style="left:2837px;top:727px;width:66px;height:60px;border:1.5px solid #d0d0d0;border-radius:13px;background:#f7f7f7"></div>
<svg style="left:2840px;top:727px" width="60" height="60" viewBox="0 0 60 60">
<rect x="19.7" y="19.4" width="20.8" height="8.8" rx="4.4" fill="none" stroke="#111" stroke-width="1.8"/><circle cx="24" cy="23.8" r="5.2" fill="#111"/>
<rect x="18.8" y="31.3" width="22.6" height="10.2" rx="5.1" fill="#141414"/><circle cx="36.4" cy="36.4" r="3" fill="#000"/>
</svg>
<div class="a" style="left:937px;top:820px;width:1966px;height:601px;border:1.5px solid #dedede;border-radius:24px;background:#fafafa"></div>
<div class="a" style="left:970px;top:853px;width:340px;height:200px;border-radius:12px;background:#1f2023;overflow:hidden;font-family:'Liberation Sans',sans-serif"><div class="a" style="left:17.3px;top:0px;width:310px;height:7px;background:#36373b;"></div><div class="a" style="left:5.8px;top:0px;width:7.7px;height:7px;background:#f2b400;border-radius:0 0 1.5px 1.5px"></div><div class="t" style="left:29px;top:0.5px;font-size:3.4px;line-height:4px;color:#e8e8e8">Paras Jain (Presenting, annotating)</div><div class="a" style="left:22px;top:0.5px;width:4px;height:4px;background:#d8b0b8;border-radius:50%"></div><div class="a" style="left:5.8px;top:24.7px;width:243.2px;height:5.8px;background:#000;"></div><div class="a" style="left:5.8px;top:30.5px;width:243.2px;height:7.8px;background:#1f2023;"></div><div class="a" style="left:7.6px;top:33.4px;width:2.2px;height:2.2px;background:#e53935;border-radius:0.6px"></div><div class="a" style="left:14.649999999999999px;top:33.4px;width:2.2px;height:2.2px;background:#43a047;border-radius:0.6px"></div><div class="a" style="left:21.7px;top:33.4px;width:2.2px;height:2.2px;background:#fb8c00;border-radius:0.6px"></div><div class="a" style="left:28.75px;top:33.4px;width:2.2px;height:2.2px;background:#8e8e8e;border-radius:0.6px"></div><div class="a" style="left:35.8px;top:33.4px;width:2.2px;height:2.2px;background:#d81b60;border-radius:0.6px"></div><div class="a" style="left:42.85px;top:33.4px;width:2.2px;height:2.2px;background:#7cb342;border-radius:0.6px"></div><div class="a" style="left:49.9px;top:33.4px;width:2.2px;height:2.2px;background:#4285f4;border-radius:0.6px"></div><div class="a" style="left:56.95px;top:33.4px;width:2.2px;height:2.2px;background:#5e35b1;border-radius:0.6px"></div><div class="a" style="left:64.0px;top:33.4px;width:2.2px;height:2.2px;background:#777;border-radius:0.6px"></div><div class="a" style="left:71.05px;top:33.4px;width:2.2px;height:2.2px;background:#777;border-radius:0.6px"></div><div class="a" style="left:78.1px;top:33.4px;width:2.2px;height:2.2px;background:#777;border-radius:0.6px"></div><div class="a" style="left:85.14999999999999px;top:33.4px;width:2.2px;height:2.2px;background:#777;border-radius:0.6px"></div><div class="a" style="left:92.19999999999999px;top:33.4px;width:2.2px;height:2.2px;background:#999;border-radius:0.6px"></div><div class="a" style="left:99.24999999999999px;top:33.4px;width:2.2px;height:2.2px;background:#999;border-radius:0.6px"></div><div class="a" style="left:106.3px;top:33.4px;width:2.2px;height:2.2px;background:#34a853;border-radius:0.6px"></div><div class="a" style="left:113.35px;top:33.4px;width:2.2px;height:2.2px;background:#34a853;border-radius:0.6px"></div><div class="a" style="left:120.39999999999999px;top:33.4px;width:2.2px;height:2.2px;background:#e53935;border-radius:0.6px"></div><div class="a" style="left:127.44999999999999px;top:33.4px;width:2.2px;height:2.2px;background:#e53935;border-radius:0.6px"></div><div class="a" style="left:134.5px;top:33.4px;width:2.2px;height:2.2px;background:#e53935;border-radius:0.6px"></div><div class="a" style="left:141.54999999999998px;top:33.4px;width:2.2px;height:2.2px;background:#34a853;border-radius:0.6px"></div><div class="a" style="left:148.6px;top:33.4px;width:2.2px;height:2.2px;background:#9e9e9e;border-radius:0.6px"></div><div class="a" style="left:155.64999999999998px;top:33.4px;width:2.2px;height:2.2px;background:#1e88e5;border-radius:0.6px"></div><div class="a" style="left:162.7px;top:33.4px;width:2.2px;height:2.2px;background:#fb8c00;border-radius:0.6px"></div><div class="a" style="left:169.75px;top:33.4px;width:2.2px;height:2.2px;background:#fbbc04;border-radius:0.6px"></div><div class="a" style="left:176.79999999999998px;top:33.4px;width:2.2px;height:2.2px;background:#fbbc04;border-radius:0.6px"></div><div class="a" style="left:183.85px;top:33.4px;width:2.2px;height:2.2px;background:#1e88e5;border-radius:0.6px"></div><div class="a" style="left:190.89999999999998px;top:33.4px;width:2.2px;height:2.2px;background:#1e88e5;border-radius:0.6px"></div><div class="a" style="left:197.95px;top:33.4px;width:2.2px;height:2.2px;background:#777;border-radius:0.6px"></div><div class="a" style="left:205.0px;top:33.4px;width:2.2px;height:2.2px;background:#039be5;border-radius:0.6px"></div><div class="a" style="left:212.04999999999998px;top:33.4px;width:2.2px;height:2.2px;background:#039be5;border-radius:0.6px"></div><div class="a" style="left:219.1px;top:33.4px;width:2.2px;height:2.2px;background:#1a73e8;border-radius:0.6px"></div><div class="a" style="left:226px;top:31px;width:11px;height:7px;background:#3c4043;border-radius:2px 2px 0 0"></div><div class="a" style="left:5.8px;top:38.3px;width:243.2px;height:6.9px;background:#35363a;"></div><div class="a" style="left:24px;top:39.6px;width:206px;height:4.4px;background:#202124;border-radius:2.2px"></div><div class="t" style="left:30px;top:39.8px;font-size:3px;line-height:4px;color:#ddd">aiops.com/in</div><div class="a" style="left:5.8px;top:45.2px;width:243.2px;height:6px;background:#2b2c2f;"></div><div class="a" style="left:5.8px;top:51.2px;width:243.2px;height:140px;background:#fbfbfd;"></div><div class="t" style="left:192px;top:55.5px;font-size:2.6px;line-height:3px;color:#e8a23c">Contact sales &gt;</div><div class="a" style="left:93.2px;top:181.8px;width:68.8px;height:8px;background:#2b2c2f;border-radius:1px"></div><div class="t" style="left:96px;top:183.8px;font-size:2.4px;line-height:4px;color:#cfcfcf">meet.google.com is sharing your screen.</div><div class="a" style="left:136.5px;top:183.4px;width:15px;height:5px;background:#55575b;border-radius:1px"></div><div class="a" style="left:198.3px;top:93px;width:48.5px;height:95px;background:#1d1e21;border-radius:2px;box-shadow:0 0 2px rgba(0,0,0,.5)"></div><div class="t" style="left:203px;top:94.2px;font-size:2.4px;line-height:3px;color:#ddd">meet.google.com</div><div class="a" style="left:200px;top:98.5px;width:45px;height:5.5px;background:#303134;border-radius:1px"></div><div class="a" style="left:200px;top:106.8px;width:45px;height:30px;background:#2c2d30;"></div><div class="a" style="left:232px;top:129px;width:7px;height:5px;background:#1a1a1c;border-radius:1px"></div><div class="a" style="left:200px;top:138.6px;width:21.6px;height:14.1px;background:#34353a;border-radius:1px"></div><div class="a" style="left:223.9px;top:138.6px;width:22px;height:14.1px;background:#34353a;border-radius:1px"></div><div class="a" style="left:206.5px;top:140px;width:8.6px;height:8.6px;background:#0f9d8a;border-radius:50%"></div><div class="a" style="left:230.4px;top:140px;width:8.6px;height:8.6px;background:#c5331f;border-radius:50%"></div><div class="t" style="left:206.5px;top:141.3px;width:8.6px;text-align:center;font-size:6px;line-height:6.5px;color:#fff">K</div><div class="t" style="left:230.4px;top:141.3px;width:8.6px;text-align:center;font-size:6px;line-height:6.5px;color:#fff">K</div><div class="a" style="left:200px;top:155px;width:45px;height:12px;background:#34353a;border-radius:1px"></div><div class="a" style="left:211.5px;top:166.6px;width:22px;height:1px;background:#6d9eeb;"></div><div class="a" style="left:209.5px;top:170.4px;width:4px;height:4px;background:#e84a8a;border-radius:50%"></div><div class="a" style="left:216.5px;top:170.4px;width:4px;height:4px;background:#f2b634;border-radius:50%"></div><div class="a" style="left:222.5px;top:170.4px;width:4px;height:4px;background:#d97b3a;border-radius:50%"></div><div class="a" style="left:237px;top:170.4px;width:4px;height:4px;background:#f2c94c;border-radius:50%"></div><div class="a" style="left:202px;top:179px;width:6px;height:6px;background:#3c4043;border-radius:50%"></div><div class="a" style="left:210.6px;top:179px;width:9px;height:7.2px;background:#f9c9d1;border-radius:2px"></div><div class="a" style="left:222px;top:179px;width:6px;height:6px;background:#3c4043;border-radius:50%"></div><div class="a" style="left:236px;top:178.6px;width:7px;height:7px;background:#d93025;border-radius:50%"></div><div class="a" style="left:253px;top:10.2px;width:86px;height:63.4px;background:#3c4043;border-radius:2px;border:0.8px solid #5b8ff0"></div><div class="a" style="left:253px;top:76.4px;width:86px;height:63.1px;background:#3c4043;border-radius:2px"></div><div class="a" style="left:253px;top:142.7px;width:86px;height:60px;background:#3c4043;border-radius:2px"></div><div class="a" style="left:274.7px;top:20.3px;width:42.4px;height:42.4px;background:#5d6166;border-radius:50%"></div><svg style="left:282.7px;top:28.3px" width="26.4" height="26.4" viewBox="0 0 26.4 26.4"><defs><clipPath id="pc"><circle cx="13.2" cy="13.2" r="13.2"/></clipPath></defs>
<circle cx="13.2" cy="13.2" r="13.2" fill="#f8ccd0"/><g clip-path="url(#pc)">
<path d="M3.5 27 C4 20.5 8 18.6 13.8 18.6 C19.6 18.6 23.5 20.5 24 27 Z" fill="#2d3160"/>
<path d="M11.6 18.4 L14 26 L16.6 18.4 Z" fill="#f4f4f8"/>
<ellipse cx="14" cy="11.6" rx="4.3" ry="5.4" fill="#8a5a3e"/>
<path d="M9.6 11 C9 5.5 12 4.6 14.4 4.8 C17.6 5 19 7.4 18.4 11 C18 8.6 16.6 8 14 8 C11.6 8 10.2 8.8 9.6 11 Z" fill="#1d1714"/>
<path d="M10.2 13.4 C10.6 17.4 12.4 18 14 18 C15.6 18 17.4 17.4 17.8 13.4 C16.8 15.4 15.4 15.6 14 15.6 C12.6 15.6 11.2 15.4 10.2 13.4Z" fill="#2a1d17"/>
</g></svg><div class="a" style="left:330.7px;top:13.2px;width:6px;height:6px;background:#4c8bf5;border-radius:50%"></div><div class="t" style="left:255.6px;top:66.3px;font-size:3.1px;line-height:4px;color:#fff;font-weight:700">Paras Jain</div><div class="a" style="left:282.7px;top:94.8px;width:26.4px;height:26.4px;background:#0b8f80;border-radius:50%"></div><div class="t" style="left:282.7px;top:97.6px;width:26.4px;text-align:center;font-size:17px;line-height:21px;color:#fff">K</div><div class="t" style="left:255.6px;top:132.4px;font-size:3.1px;line-height:4px;color:#fff;font-weight:700">Kanishka Agarwal</div><div class="t" style="left:291px;top:194.6px;font-size:2.8px;line-height:4px;color:#e0e0e0">Paras Jain joined</div><div class="a" style="left:258px;top:192px;width:24px;height:8px;background:#fdfdfd;"></div><div class="a" style="left:240.3px;top:148.3px;width:83.4px;height:43.7px;border-radius:10px;background:#fafafa"></div><div class="t" style="left:240.3px;top:155.1px;width:83.4px;text-align:center;font-size:24px;line-height:29px;color:#111">31:12</div></div>
<div class="a" style="left:1340px;top:846px;width:400px;height:92px;overflow:hidden;background:#fcfcfc"><div class="t" style="left:10px;top:6px;font-size:25px;line-height:34px;font-weight:700;color:#8f8f8f;filter:blur(10px)">Kanishka <span style="color:#c9c9c9;font-weight:400">&lt;&gt; IT</span></div><div class="t" style="left:12px;top:62px;font-size:24px;line-height:30px;color:#c2c2c2;filter:blur(9px)">Paras Jain, Kanishka Agarwal</div></div>
<div class="t " style="left:1350.5px;top:952.38px;font-size:24px;line-height:29px;color:#8c8c8c;font-weight:400;">Mar 4th, 2025, 2:00 PM</div>
<div class="t " style="left:2196.5px;top:851.96px;font-size:16px;line-height:19px;color:#333;font-weight:700;letter-spacing:2px;">CALL SCORE</div>
<div class="t " style="left:2158px;top:887.38px;font-size:24px;line-height:29px;color:#111;font-weight:400;width:200px;text-align:center;">N/A</div>
<div class="a" style="left:2390px;top:853px;width:2px;height:38px;background:#dcdcdc"></div>
<div class="t " style="left:2424.2px;top:851.88px;font-size:24px;line-height:29px;color:#333;font-weight:400;">Not associated with any account</div>
<div class="a" style="left:959px;top:1101px;width:1851px;height:191px;overflow:hidden;background:linear-gradient(180deg,#ececec 0%,#ececec 78%,#f6f6f6 92%,#f8f8f8 100%)"><div class="a" style="left:0;top:0;width:1851px;height:191px;filter:blur(8px)"><div class="a" style="left:9px;top:4.0px;width:1824px;font-size:26px;line-height:30px;color:#767676;text-align:justify;text-align-last:justify;white-space:nowrap"><b>Call Recap:</b> The meeting focused on Kanishka's current workload and areas for improvement. Paras emphasized the need for Kanishka to be more proactive in</div><div class="a" style="left:9px;top:41.8px;width:1850px;font-size:26px;line-height:30px;color:#767676;text-align:justify;text-align-last:justify;white-space:nowrap">following up on tasks and managing accounts. There was a discussion about improving customer feedback collection and ensuring prompt responses to support</div><div class="a" style="left:9px;top:79.6px;width:1758px;font-size:26px;line-height:30px;color:#767676;text-align:justify;text-align-last:justify;white-space:nowrap">queries. Kanishka mentioned personal challenges affecting work performance but expressed readiness to improve. Paras provided guidance on account</div><div class="a" style="left:9px;top:117.4px;width:1827px;font-size:26px;line-height:30px;color:#767676;text-align:justify;text-align-last:justify;white-space:nowrap">management and emphasized the importance of punctuality and promptness. The sentiment was constructive, aiming for performance enhancement. No direct</div><div class="a" style="left:9px;top:155.2px;width:1270px;font-size:26px;line-height:30px;color:#767676;text-align:justify;text-align-last:justify;white-space:nowrap">buying intent was discussed, but there was a focus on improving customer interactions and internal processes.</div></div></div>
<div class="a" style="left:937px;top:1292px;width:1966px;height:129px;border-radius:24px;background:#f7f7f7"></div>
<div class="a" style="left:1127px;top:1325px;width:64px;height:64px;border-radius:9px;background:#9a77fb"></div>
<div class="t " style="left:1127px;top:1340.90px;font-size:28px;line-height:34px;color:#fff;font-weight:400;width:64px;text-align:center;">1</div>
<div class="t " style="left:1203px;top:1340.90px;font-size:28px;line-height:34px;color:#111;font-weight:400;width:64px;text-align:center;">2</div>
<div class="t " style="left:1279px;top:1340.90px;font-size:28px;line-height:34px;color:#111;font-weight:400;width:64px;text-align:center;">3</div>
<div class="t " style="left:1355px;top:1340.90px;font-size:28px;line-height:34px;color:#111;font-weight:400;width:64px;text-align:center;">4</div>
<div class="t " style="left:1431px;top:1340.90px;font-size:28px;line-height:34px;color:#111;font-weight:400;width:64px;text-align:center;">5</div>
<div class="t " style="left:1507px;top:1340.90px;font-size:28px;line-height:34px;color:#111;font-weight:400;width:64px;text-align:center;">6</div>
<div class="t " style="left:1583px;top:1340.90px;font-size:28px;line-height:34px;color:#111;font-weight:400;width:64px;text-align:center;">7</div>
<svg style="left:985.0px;top:1334.8px" width="44.4" height="44.4" viewBox="0 0 24 24"><path fill="#9e9e9e" d="M18.41 16.59L13.82 12l4.59-4.59L17 6l-6 6 6 6zM6 6h2v12H6z"/></svg>
<svg style="left:1061.3px;top:1334.8px" width="44.4" height="44.4" viewBox="0 0 24 24"><path fill="#9e9e9e" d="M15.41 7.41L14 6l-6 6 6 6 1.41-1.41L10.83 12z"/></svg>
<svg style="left:1668.3px;top:1334.8px" width="44.4" height="44.4" viewBox="0 0 24 24"><path fill="#111" d="M10 6L8.59 7.41 13.17 12l-4.58 4.590L10 18l6-6z"/></svg>
<svg style="left:1745.0px;top:1334.8px" width="44.4" height="44.4" viewBox="0 0 24 24"><path fill="#111" d="M5.59 7.41L10.18 12l-4.59 4.59L7 18l6-6-6-6zM16 6h2v12h-2z"/></svg>
<div class="a" style="left:2727px;top:1289.5px;width:178px;height:97px;border-radius:48.5px;background:linear-gradient(35deg,#3d1a92 0%,#4a22b0 50%,#5a2bd8 100%)"></div>
<svg style="left:2745px;top:1308px" width="60" height="60" viewBox="0 0 60 60"><g transform="translate(30.1 29.7) rotate(-16)" fill="none" stroke="#fff" stroke-width="3.1" stroke-linecap="round">
<circle cx="0" cy="0" r="18.1"/><path d="M-5 -17.3 V17.3 M5 -17.3 V17.3 M-17.3 -5 H17.3 M-17.3 5 H17.3"/></g></svg>
<div class="t " style="left:2817.4px;top:1321.61px;font-size:27.4px;line-height:33px;color:#fff;font-weight:700;">Help</div>
</body></html>
